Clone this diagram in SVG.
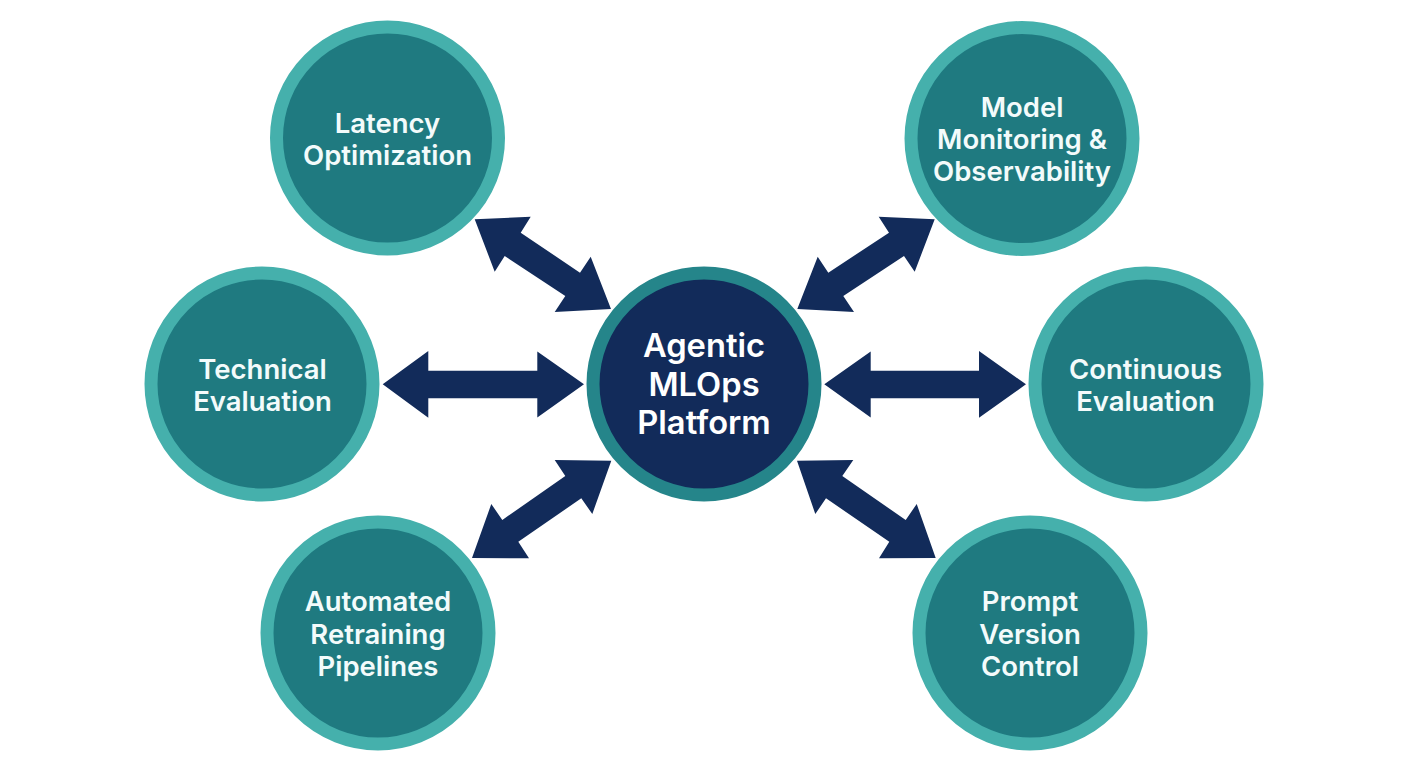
<svg xmlns="http://www.w3.org/2000/svg" width="1408" height="768" viewBox="0 0 1408 768">
<style>
.ring{fill:#1f7a80;stroke:#45b0ac;stroke-width:13}
.core{fill:#122b5a;stroke:#25858a;stroke-width:13}
.arrow{fill:#122b5a}
text{font-family:Inter,"Liberation Sans",sans-serif;font-weight:600;fill:#f3fbfb;text-anchor:middle}
.t{font-size:27.5px}
.c{font-size:32.7px;fill:#fff}
</style>
<rect width="1408" height="768" fill="#fff"/>
<g id="connectors">
<polygon class="arrow" points="474.7,219.3 530.7,216.7 520.7,232.7 580,272.7 590.7,256.7 611,309 554.7,312 565.3,296 504.7,256 494.7,271.7"/>
<polygon class="arrow" points="934.7,219.3 878.7,216.7 889,232.7 828.3,272.7 817.7,256.7 797.3,309 854,312 843.3,296 904,256 914.7,271.7"/>
<polygon class="arrow" points="382.7,384.3 428.3,351 428.3,370.7 537.3,370.7 537.3,351.5 584,384.3 537.3,417.5 537.3,398.3 428.3,398.3 428.3,417.7"/>
<polygon class="arrow" points="824.3,384.3 870.7,351.5 870.7,370.7 979,370.7 979,351 1026,384.3 979,417.7 979,398.3 870.7,398.3 870.7,417.5"/>
<polygon class="arrow" points="611.3,460.7 554.7,460 565.3,476 502.3,520 491.3,504 472,558 529,558.3 518.3,541.7 581.3,498.3 592.3,514"/>
<polygon class="arrow" points="797,460.7 853.3,460 842.3,476 905.7,520 916.7,504 935.7,558 879,558.3 889.3,541.7 826,498.3 815.3,514"/>
</g>
<g id="node-center">
<circle class="core" cx="704" cy="384" r="111"/>
<text class="c" x="704" y="357">Agentic</text>
<text class="c" x="704" y="395.5">MLOps</text>
<text class="c" x="704" y="434">Platform</text>
</g>
<g id="node-latency">
<circle class="ring" cx="387.5" cy="138" r="111"/>
<text class="t" x="387.5" y="132.5">Latency</text>
<text class="t" x="387.5" y="164.5">Optimization</text>
</g>
<g id="node-monitoring">
<circle class="ring" cx="1022" cy="138.5" r="111"/>
<text class="t" x="1022" y="116.5">Model</text>
<text class="t" x="1022" y="148.5">Monitoring &amp;</text>
<text class="t" x="1022" y="181">Observability</text>
</g>
<g id="node-technical">
<circle class="ring" cx="262" cy="384" r="111"/>
<text class="t" x="262.5" y="378.5">Technical</text>
<text class="t" x="262.5" y="410.5">Evaluation</text>
</g>
<g id="node-continuous">
<circle class="ring" cx="1146" cy="384" r="111"/>
<text class="t" x="1145.5" y="378.5">Continuous</text>
<text class="t" x="1145.5" y="410.5">Evaluation</text>
</g>
<g id="node-retraining">
<circle class="ring" cx="378" cy="633" r="111"/>
<text class="t" x="378" y="611">Automated</text>
<text class="t" x="378" y="643.5">Retraining</text>
<text class="t" x="378" y="675.5">Pipelines</text>
</g>
<g id="node-prompt">
<circle class="ring" cx="1030" cy="633" r="111"/>
<text class="t" x="1030" y="611">Prompt</text>
<text class="t" x="1030" y="643.5">Version</text>
<text class="t" x="1030" y="675.5">Control</text>
</g>
</svg>
